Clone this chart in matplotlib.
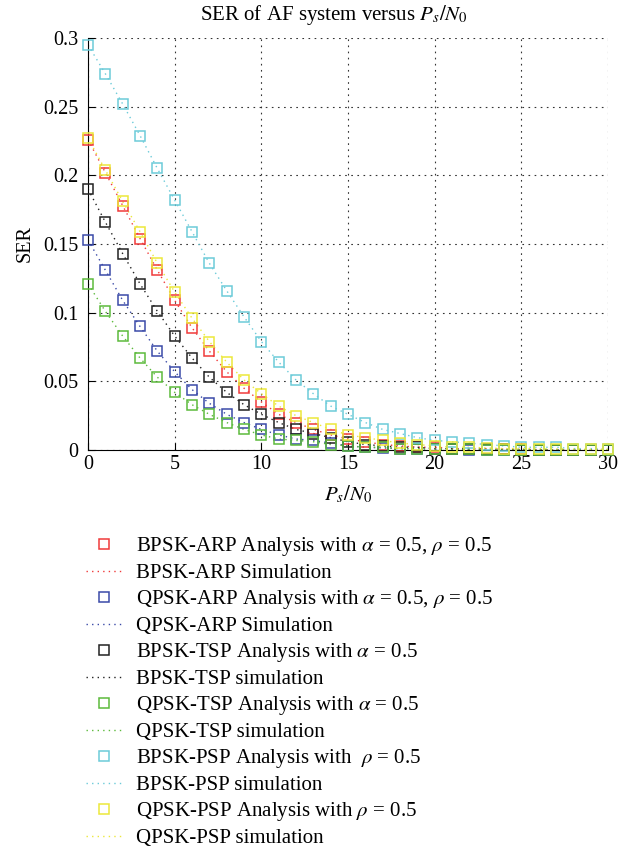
import numpy as np
import matplotlib
matplotlib.use('Agg')
import matplotlib.pyplot as plt

plt.rcParams['font.family'] = ['Liberation Serif', 'DejaVu Serif']
plt.rcParams['mathtext.fontset'] = 'stix'

snr = np.arange(0, 31)

bpsk_arp = [0.226, 0.202, 0.178, 0.154, 0.131, 0.109, 0.089, 0.072, 0.057, 0.045,
            0.035, 0.026, 0.020, 0.015, 0.011, 0.008, 0.006, 0.004, 0.003, 0.002,
            0.002, 0.001, 0.001, 0.001, 0.0005, 0.0004, 0.0003, 0.0002, 0.0002, 0.0001, 0.0001]
qpsk_arp = [0.153, 0.131, 0.109, 0.090, 0.072, 0.057, 0.044, 0.034, 0.026, 0.020,
            0.015, 0.011, 0.008, 0.007, 0.005, 0.003, 0.002, 0.0015, 0.001, 0.001,
            0.0005, 0.0004, 0.0003, 0.0002, 0.0002, 0.0001, 0.0001, 0.0001, 0.0, 0.0, 0.0]
bpsk_tsp = [0.190, 0.166, 0.143, 0.121, 0.101, 0.083, 0.067, 0.053, 0.042, 0.033,
            0.026, 0.020, 0.015, 0.012, 0.009, 0.006, 0.004, 0.003, 0.002, 0.002,
            0.001, 0.001, 0.0007, 0.0005, 0.0004, 0.0003, 0.0002, 0.0002, 0.0001, 0.0001, 0.0001]
qpsk_tsp = [0.121, 0.101, 0.083, 0.067, 0.053, 0.042, 0.033, 0.026, 0.020, 0.015,
            0.011, 0.008, 0.007, 0.006, 0.004, 0.003, 0.002, 0.002, 0.001, 0.001,
            0.0007, 0.0005, 0.0004, 0.0003, 0.0002, 0.0002, 0.0001, 0.0001, 0.0001, 0.0, 0.0]
bpsk_psp = [0.295, 0.274, 0.252, 0.229, 0.205, 0.182, 0.159, 0.136, 0.116, 0.097,
            0.079, 0.064, 0.051, 0.041, 0.032, 0.026, 0.020, 0.015, 0.012, 0.009,
            0.007, 0.006, 0.005, 0.004, 0.003, 0.002, 0.002, 0.002, 0.001, 0.001, 0.001]
qpsk_psp = [0.227, 0.204, 0.181, 0.159, 0.136, 0.115, 0.096, 0.079, 0.064, 0.051,
            0.041, 0.032, 0.025, 0.020, 0.015, 0.011, 0.009, 0.007, 0.005, 0.004,
            0.003, 0.002, 0.002, 0.0015, 0.001, 0.001, 0.001, 0.0008, 0.0006, 0.0005, 0.0005]

series = [
    (bpsk_arp, '#f03a3a', r'BPSK-ARP Analysis with $\alpha$ = 0.5, $\rho$ = 0.5', 'BPSK-ARP Simulation'),
    (qpsk_arp, '#3a4aa8', r'QPSK-ARP Analysis with $\alpha$ = 0.5, $\rho$ = 0.5', 'QPSK-ARP Simulation'),
    (bpsk_tsp, '#222222', r'BPSK-TSP Analysis with $\alpha$ = 0.5', 'BPSK-TSP simulation'),
    (qpsk_tsp, '#5cba3c', r'QPSK-TSP Analysis with $\alpha$ = 0.5', 'QPSK-TSP simulation'),
    (bpsk_psp, '#6ccbd9', r'BPSK-PSP Analysis with  $\rho$ = 0.5', 'BPSK-PSP simulation'),
    (qpsk_psp, '#ece83a', r'QPSK-PSP Analysis with $\rho$ = 0.5', 'QPSK-PSP simulation'),
]

fig = plt.figure(figsize=(6.35, 8.52), dpi=100)
ax = fig.add_axes([88/635, 1-450/852, 520/635, 412/852])

handles = []
labels = []
for vals, col, lab_a, lab_s in series:
    h1, = ax.plot(snr, vals, linestyle='none', marker='s', markersize=7.5,
                  markerfacecolor='none', markeredgecolor=col, markeredgewidth=1.1,
                  clip_on=False, zorder=3)
    h2, = ax.plot(snr, vals, linestyle=(0, (1, 3)), color=col, linewidth=1.0)
    handles += [h1, h2]
    labels += [lab_a, lab_s]

ax.set_xlim(0, 30)
ax.set_ylim(0, 0.3)
ax.set_xticks([0, 5, 10, 15, 20, 25, 30])
ax.set_yticks([0, 0.05, 0.1, 0.15, 0.2, 0.25, 0.3])
ax.set_yticklabels(['0', '0.05', '0.1', '0.15', '0.2', '0.25', '0.3'])
ax.tick_params(direction='in', labelsize=14.5, length=5)
ax.tick_params(axis='y', pad=7)
ax.grid(True, color='#333333', linestyle=(0, (1.5, 4)), linewidth=0.8)
ax.spines['top'].set_visible(False)
ax.spines['right'].set_visible(False)
ax.set_xlabel(r'$P_s/N_0$', fontsize=15, labelpad=7)
ax.set_ylabel('SER', fontsize=14.5, labelpad=6)
fig.text(334/635, 1-15/852, r'SER of AF system versus $P_s/N_0$', fontsize=15,
         ha='center', va='center')

fig.legend(handles, labels, loc='upper left', bbox_to_anchor=(86/635, 1-535/852),
           frameon=False, fontsize=15, handlelength=1.75, handletextpad=0.65,
           labelspacing=0.25, borderpad=0, borderaxespad=0)

plt.savefig('out.png', dpi=100)
